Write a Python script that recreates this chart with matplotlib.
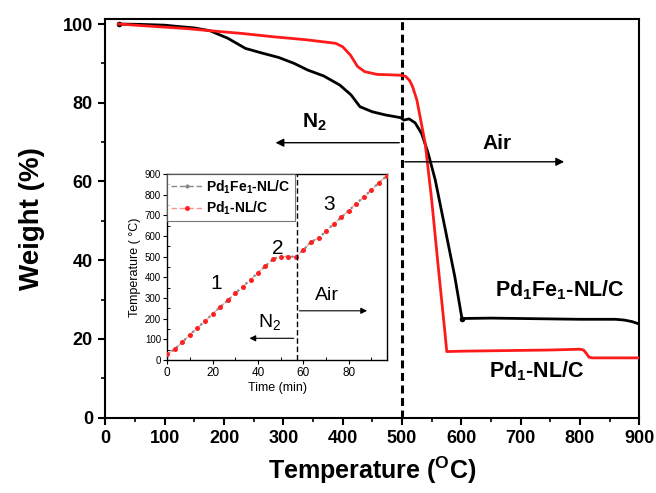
import matplotlib
matplotlib.use("Agg")
import matplotlib.pyplot as plt
from matplotlib.lines import Line2D
import numpy as np

plt.rcParams['font.family'] = ['Liberation Sans', 'DejaVu Sans']
plt.rcParams['mathtext.fontset'] = 'custom'
plt.rcParams['mathtext.rm'] = 'Liberation Sans'
plt.rcParams['mathtext.it'] = 'Liberation Sans:italic'
plt.rcParams['mathtext.bf'] = 'Liberation Sans:bold'

# ---- main TGA data ----
temp_fe = np.array([22, 60, 100, 120, 150, 176, 206, 236, 262, 292, 318, 341, 368, 395,
                    414, 429, 450, 472, 498, 503, 512, 522, 533, 544, 556, 572, 589, 601,
                    650, 700, 750, 800, 860, 875, 888, 898])
weight_fe = np.array([100, 99.9, 99.7, 99.4, 99.0, 98.3, 96.4, 93.8, 92.7, 91.5, 90.0, 88.3,
                      86.8, 84.5, 82.0, 79.0, 77.7, 76.9, 76.2, 75.6, 75.9, 74.9, 72.2, 67.2,
                      60.4, 48.5, 35.8, 25.2, 25.3, 25.2, 25.1, 25.0, 25.0, 24.8, 24.4, 23.9])

temp_pd = np.array([22, 60, 100, 140, 176, 230, 280, 338, 388, 400, 413, 425, 437, 458, 478,
                    498, 506, 513, 518, 525, 539, 550, 561, 572.5, 575.4, 600, 650, 700, 750,
                    800, 806, 811, 815, 820, 850, 898])
weight_pd = np.array([100, 99.6, 99.2, 98.8, 98.3, 97.6, 96.8, 96.0, 95.1, 94.2, 92.1, 89.2,
                      87.9, 87.2, 87.1, 87.0, 86.7, 85.6, 84.0, 80.7, 69.7, 55.3, 38.4, 21.4,
                      16.8, 16.9, 17.0, 17.1, 17.2, 17.4, 17.2, 16.3, 15.4, 15.2, 15.2, 15.2])

x_ticks = [0, 100, 200, 300, 400, 500, 600, 700, 800, 900]
y_ticks = [0, 20, 40, 60, 80, 100]

# ---- inset temperature program ----
time_min = np.array([0, 3.3, 6.7, 10, 13.3, 16.7, 20, 23.3, 26.7, 30, 33.3, 36.7, 40, 43.3,
                     46.7, 50, 53.3, 56.7, 60, 63.3, 66.7, 70, 73.3, 76.7, 80, 83.3, 86.7,
                     90, 93.3, 96.7])
prog_temp = np.array([27, 53, 87, 123, 156, 189, 223, 256, 289, 323, 355, 389, 423, 455, 489,
                      500, 500, 500, 532, 571, 590, 623, 658, 690, 723, 756, 790, 823, 858, 890])
inset_xticks = [0, 20, 40, 60, 80]
inset_yticks = [0, 100, 200, 300, 400, 500, 600, 700, 800, 900]

labels = ['Pd$_\\mathbf{1}$Fe$_\\mathbf{1}$-NL/C', 'Pd$_\\mathbf{1}$-NL/C']

fig = plt.figure(figsize=(6.56, 4.93), dpi=100)
ax = fig.add_axes([0.1608, 0.1527, 0.8137, 0.8082])

ax.plot(temp_fe, weight_fe, color='black', lw=2.0, marker='o', ms=3,
        markevery=[0, 27], zorder=3)
ax.plot(temp_pd, weight_pd, color='#ff1a1a', lw=2.0, zorder=3)

ax.axvline(500, color='black', lw=2.2, linestyle=(0, (2.6, 1.5)), zorder=2)

ax.set_xlim(0, 900)
ax.set_ylim(0, 101.2)
ax.set_xticks(x_ticks)
ax.set_yticks(y_ticks)
ax.set_xticks(np.arange(50, 900, 100), minor=True)
ax.set_yticks(np.arange(10, 100, 20), minor=True)
ax.tick_params(which='major', direction='out', length=5, width=1.5, labelsize=13, pad=4)
ax.tick_params(which='minor', direction='out', length=3, width=1.2)
for lab in ax.get_xticklabels() + ax.get_yticklabels():
    lab.set_fontweight('bold')
for s in ax.spines.values():
    s.set_linewidth(1.5)

ax.set_xlabel('Temperature ($^\\mathbf{O}$C)', fontsize=18, fontweight='bold', labelpad=5)
ax.set_ylabel('Weight (%)', fontsize=20, fontweight='bold', labelpad=13)

# arrows + text
ax.annotate('', xy=(282, 69.85), xytext=(500, 69.85),
            arrowprops=dict(arrowstyle='-|>', color='black', lw=1.0, mutation_scale=12))
ax.annotate('', xy=(778, 65.0), xytext=(500, 65.0),
            arrowprops=dict(arrowstyle='-|>', color='black', lw=1.0, mutation_scale=12))
ax.text(353, 75, 'N$_\\mathbf{2}$', fontsize=15, fontweight='bold', ha='center', va='center')
ax.text(660, 69.7, 'Air', fontsize=15, fontweight='bold', ha='center', va='center')
ax.text(766, 32.4, labels[0], fontsize=15.5, fontweight='bold', ha='center', va='center')
ax.text(727, 11.7, labels[1], fontsize=15.5, fontweight='bold', ha='center', va='center')

# ---- inset ----
axi = fig.add_axes([0.2550, 0.2698, 0.3354, 0.3773])
axi.plot(time_min, prog_temp, color='#ff9090', lw=0.8, linestyle=(0, (6, 3)), zorder=2)
axi.plot(time_min, prog_temp, color='#888888', lw=1.6, linestyle=(0, (1, 1.5)), zorder=3)
axi.plot(time_min, prog_temp, linestyle='none', marker='o', ms=3.6, color='#ff2020',
         markeredgewidth=0, zorder=4)
axi.axvline(57, color='black', lw=1.0, linestyle=(0, (4, 2)), zorder=5)
axi.set_xlim(0, 97)
axi.set_ylim(0, 900)
axi.set_xticks(inset_xticks)
axi.set_yticks(inset_yticks)
axi.set_xticks(np.arange(10, 97, 20), minor=True)
axi.set_yticks(np.arange(50, 900, 100), minor=True)
axi.tick_params(axis='x', which='major', direction='out', length=3, width=0.8, labelsize=8.5, pad=2)
axi.tick_params(axis='y', which='major', direction='out', length=3, width=0.8, labelsize=7, pad=1.5)
axi.tick_params(which='minor', direction='in', length=2, width=0.7)
for s in axi.spines.values():
    s.set_linewidth(1.0)
axi.set_xlabel('Time (min)', fontsize=9, labelpad=2)
axi.set_ylabel('Temperature ( \u00b0C)', fontsize=9, labelpad=3)

axi.annotate('', xy=(35, 105), xytext=(57, 105),
             arrowprops=dict(arrowstyle='-|>', color='black', lw=0.8, mutation_scale=9))
axi.annotate('', xy=(89.3, 238), xytext=(57, 238),
             arrowprops=dict(arrowstyle='-|>', color='black', lw=0.8, mutation_scale=9))
axi.text(45, 185, 'N$_2$', fontsize=14, ha='center', va='center')
axi.text(70.2, 314, 'Air', fontsize=14, ha='center', va='center')
axi.text(21.7, 371, '1', fontsize=15, ha='center', va='center')
axi.text(48.9, 539, '2', fontsize=15, ha='center', va='center')
axi.text(71.2, 750, '3', fontsize=15, ha='center', va='center')

h1 = Line2D([], [], color='#888888', lw=1.0, linestyle=(0, (4, 2)), marker='o', ms=3,
            markerfacecolor='#888888', markeredgewidth=0)
h2 = Line2D([], [], color='#ff9090', lw=1.0, linestyle=(0, (4, 2)), marker='o', ms=3.6,
            markerfacecolor='#ff2020', markeredgewidth=0)
leg = axi.legend([h1, h2], labels, loc='upper left',
                 prop={'weight': 'bold', 'size': 10}, frameon=True, fancybox=False,
                 borderpad=0.3, labelspacing=0.3, handlelength=2.2, handletextpad=0.3,
                 borderaxespad=0.0)
leg.get_frame().set_edgecolor('#555555')
leg.get_frame().set_linewidth(0.8)

fig.savefig('out.png', dpi=100)
